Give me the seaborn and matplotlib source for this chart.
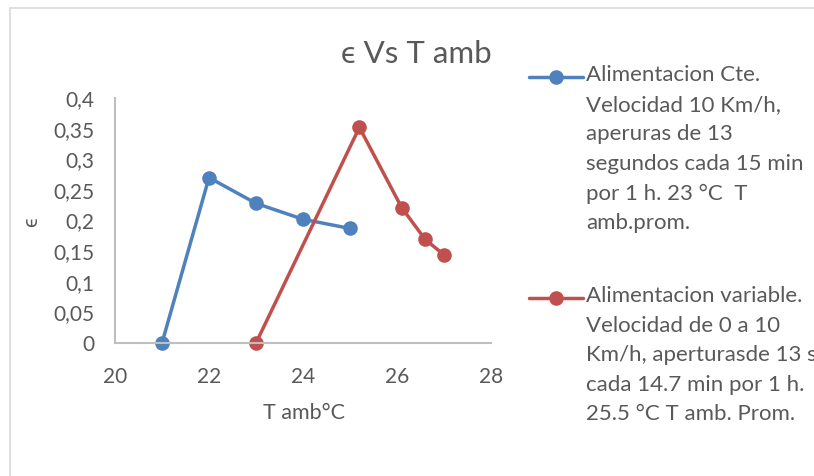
import numpy as np
import pandas as pd
import matplotlib
matplotlib.use("Agg")
import matplotlib.pyplot as plt
import seaborn as sns
from matplotlib.lines import Line2D
from matplotlib.patches import Rectangle
from matplotlib.ticker import FuncFormatter

# ---- data ----
cte_t = [21, 22, 23, 24, 25]
cte_eps = [0.0, 0.27, 0.228, 0.202, 0.187]
var_t = [23, 25.2, 26.1, 26.6, 27.0]
var_eps = [0.0, 0.352, 0.221, 0.169, 0.144]

title = "ϵ Vs T amb"
xlabel = "T amb°C"
ylabel = "ϵ"
label_cte = ("Alimentacion Cte.\nVelocidad 10 Km/h,\naperuras de 13\n"
             "segundos cada 15 min\npor 1 h. 23 °C  T\namb.prom.")
label_var = ("Alimentacion variable.\nVelocidad de 0 a 10\nKm/h, aperturasde 13 s\n"
             "cada 14.7 min por 1 h.\n25.5 °C T amb. Prom.")
xticks = [20, 22, 24, 26, 28]
yticks = [0, 0.05, 0.1, 0.15, 0.2, 0.25, 0.3, 0.35, 0.4]

BLUE = "#4F81BD"
RED = "#C0504D"
TXT = "#595959"

sns.set_style("white")
plt.rcParams['font.family'] = ['Lato', 'DejaVu Sans']

W, H = 814, 476
fig = plt.figure(figsize=(W / 100, H / 100), dpi=100)

def fx(px):
    return px / W

def fy(py):
    return 1 - py / H

# chart border
fig.add_artist(Rectangle((fx(10), fy(480)), 1.0, fy(8) - fy(480), transform=fig.transFigure,
                         fill=False, edgecolor="#d9d9d9", lw=1.2))

ax = fig.add_axes([fx(115), fy(343), fx(491) - fx(115), fy(98) - fy(343)])

df_c = pd.DataFrame({"t": cte_t, "e": cte_eps})
df_v = pd.DataFrame({"t": var_t, "e": var_eps})
sns.lineplot(data=df_c, x="t", y="e", ax=ax, color=BLUE, marker="o", markersize=10.5,
             markeredgewidth=0, linewidth=2.5, sort=False)
sns.lineplot(data=df_v, x="t", y="e", ax=ax, color=RED, marker="o", markersize=10.5,
             markeredgewidth=0, linewidth=2.5, sort=False)
for ln in ax.lines:
    ln.set_clip_on(False)

ax.set_xlim(20, 28)
ax.set_ylim(0, 0.4)
ax.set_xticks(xticks)
ax.set_yticks(yticks)
ax.yaxis.set_major_formatter(FuncFormatter(lambda v, p: ("%g" % round(v, 2)).replace(".", ",")))
ax.tick_params(axis="both", length=0, labelsize=15, colors=TXT)
ax.tick_params(axis="x", pad=17)
ax.tick_params(axis="y", pad=15)
ax.set_xlabel("")
ax.set_ylabel("")
for s in ["top", "right"]:
    ax.spines[s].set_visible(False)
for s in ["left", "bottom"]:
    ax.spines[s].set_color("#bfbfbf")
    ax.spines[s].set_linewidth(1.5)
ax.set_facecolor("none")

fig.text(fx(416), fy(54), title, ha="center", va="center", fontsize=22.5, color=TXT)
fig.text(fx(304), fy(413), xlabel, ha="center", va="center", fontsize=15.5, color=TXT)
fig.text(fx(31), fy(222), ylabel, ha="center", va="center", fontsize=15, color=TXT, rotation=90)

# legend
for y0, col, lab in [(77, BLUE, label_cte), (298, RED, label_var)]:
    fig.add_artist(Line2D([fx(529), fx(583)], [fy(y0), fy(y0)], transform=fig.transFigure,
                          color=col, lw=2.5))
    fig.add_artist(Line2D([fx(556)], [fy(y0)], transform=fig.transFigure, color=col,
                          marker="o", markersize=10.5, markeredgewidth=0))
    fig.text(fx(586), fy(y0 - 12), lab, ha="left", va="top", fontsize=16, color=TXT,
             linespacing=1.6)

fig.savefig("out.png", dpi=100)
